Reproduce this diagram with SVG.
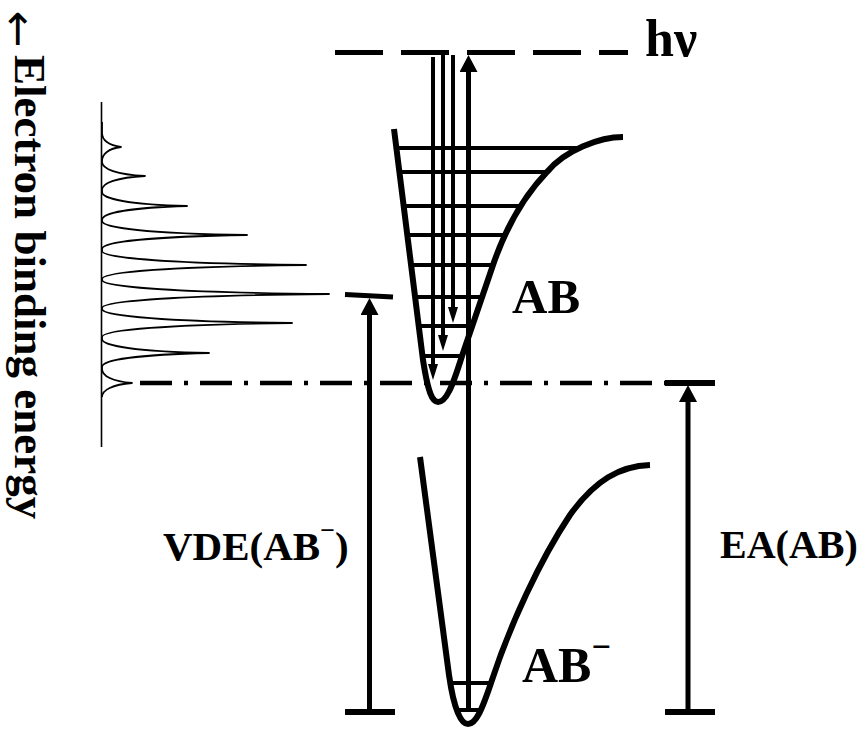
<svg xmlns="http://www.w3.org/2000/svg" width="862" height="729" viewBox="0 0 862 729">
<defs>
<style>
.t{font-family:"Liberation Serif","Times New Roman",serif;font-weight:bold;fill:#000}
.well{fill:none;stroke:#000;stroke-width:6;stroke-linecap:butt;stroke-linejoin:round}
.lvl{stroke:#000;stroke-width:4}
.ln{stroke:#000;fill:none}
.spec{fill:none;stroke:#000;stroke-width:1.8;stroke-linejoin:round}
</style>
<marker id="hs" markerUnits="userSpaceOnUse" viewBox="0 0 16 10" markerWidth="16" markerHeight="10" refX="6" refY="5" orient="auto"><path d="M0,0L16,5L0,10z"/></marker>
<marker id="hb" markerUnits="userSpaceOnUse" viewBox="0 0 17 18" markerWidth="17" markerHeight="18" refX="7" refY="9" orient="auto"><path d="M0,0L17,9L0,18z"/></marker>
</defs>
<rect width="862" height="729" fill="#fff"/>

<g id="axis-label">
<text x="18" y="45" font-size="44" text-anchor="middle" style="font-family:'DejaVu Sans',sans-serif">↑</text>
<text class="t" transform="translate(15,55) rotate(90)" font-size="45">Electron binding energy</text>
</g>

<g id="photon-level">
<line class="ln" x1="335" y1="52.5" x2="628" y2="52.5" stroke-width="5" stroke-dasharray="48 18"/>
<text class="t" x="645" y="56" font-size="52">hν</text>
</g>

<g id="zero-level">
<line class="ln" x1="140" y1="383" x2="665" y2="383" stroke-width="4.5" stroke-dasharray="32 12 4 12"/>
</g>

<g id="spectrum">
<line class="ln" x1="101.5" y1="102" x2="101.5" y2="447" stroke-width="1.6"/>
<path class="spec" d="M102,122 L102,133 C102,140 108.65,145.5 121,147 C108.65,148.5 102,154 102,161
L102,162 C102,169 117.05,174.5 145,176 C117.05,177.5 102,183 102,190
L102,192 C102,199 131.75,204.5 187,206 C131.75,207.5 102,213 102,220
L102,221 C102,228 152.75,233.5 247,235 C152.75,236.5 102,242 102,249
L102,251 C102,258 173.4,263.5 306,265 C173.4,266.5 102,272 102,279
L102,280 C102,287 181.45,292.5 329,294 C181.45,295.5 102,301 102,308
L102,309 C102,316 168.5,321.5 292,323 C168.5,324.5 102,330 102,337
L102,339 C102,346 139.45,351.5 209,353 C139.45,354.5 102,360 102,367
L102,369 C102,376 112.5,381.5 132,383 C112.5,384.5 102,390 102,397"/>
</g>

<g id="AB">
<path class="well" d="M394,129 L423,360 C428,392 432,402 438,402 C446,402 452,388 462,356 L493,265 C503,236 520,200 547,172 C565,150 600,137 623,137"/>
<line class="lvl" x1="396" y1="148" x2="578" y2="148"/>
<line class="lvl" x1="399" y1="172" x2="547" y2="172"/>
<line class="lvl" x1="404" y1="206" x2="521" y2="206"/>
<line class="lvl" x1="407" y1="235" x2="505" y2="235"/>
<line class="lvl" x1="411" y1="265" x2="493" y2="265"/>
<line class="lvl" x1="415" y1="297" x2="482" y2="297"/>
<line class="lvl" x1="419" y1="326" x2="472" y2="326"/>
<line class="lvl" x1="422.5" y1="356" x2="462" y2="356"/>
<text class="t" x="512" y="313" font-size="49">AB</text>
</g>

<g id="AB-anion">
<path class="well" d="M420,457 L449,675 C454,710 461,724 468,724 C476,724 482,710 492,680 C510,625 540,560 570,515 C595,480 620,466 650,465"/>
<line class="lvl" x1="450" y1="683" x2="491" y2="683"/>
<line class="lvl" x1="457" y1="710" x2="480" y2="710"/>
<text class="t" x="522" y="682" font-size="50">AB<tspan font-size="34" dy="-24">−</tspan></text>
</g>

<g id="connectors">
<line class="ln" x1="468.5" y1="712" x2="468.5" y2="65" stroke-width="5" marker-end="url(#hb)"/>
<line class="ln" x1="433" y1="57" x2="433" y2="370" stroke-width="4" marker-end="url(#hs)"/>
<line class="ln" x1="443" y1="55" x2="443" y2="341" stroke-width="4" marker-end="url(#hs)"/>
<line class="ln" x1="453" y1="55" x2="453" y2="313" stroke-width="4" marker-end="url(#hs)"/>
<line class="ln" x1="369.5" y1="712" x2="369.5" y2="308" stroke-width="5" marker-end="url(#hb)"/>
<line class="ln" x1="345" y1="294.5" x2="393" y2="297" stroke-width="5"/>
<line class="ln" x1="345" y1="712" x2="395" y2="712" stroke-width="6"/>
<line class="ln" x1="688" y1="712" x2="688" y2="395" stroke-width="5" marker-end="url(#hb)"/>
<line class="ln" x1="665" y1="383" x2="715" y2="383" stroke-width="6"/>
<line class="ln" x1="665" y1="712" x2="715" y2="712" stroke-width="6"/>
</g>

<g id="labels">
<text class="t" x="163" y="560" font-size="41">VDE(AB<tspan font-size="26" dy="-21">−</tspan><tspan dy="21">)</tspan></text>
<text class="t" x="720" y="558" font-size="40">EA(AB)</text>
</g>
</svg>
